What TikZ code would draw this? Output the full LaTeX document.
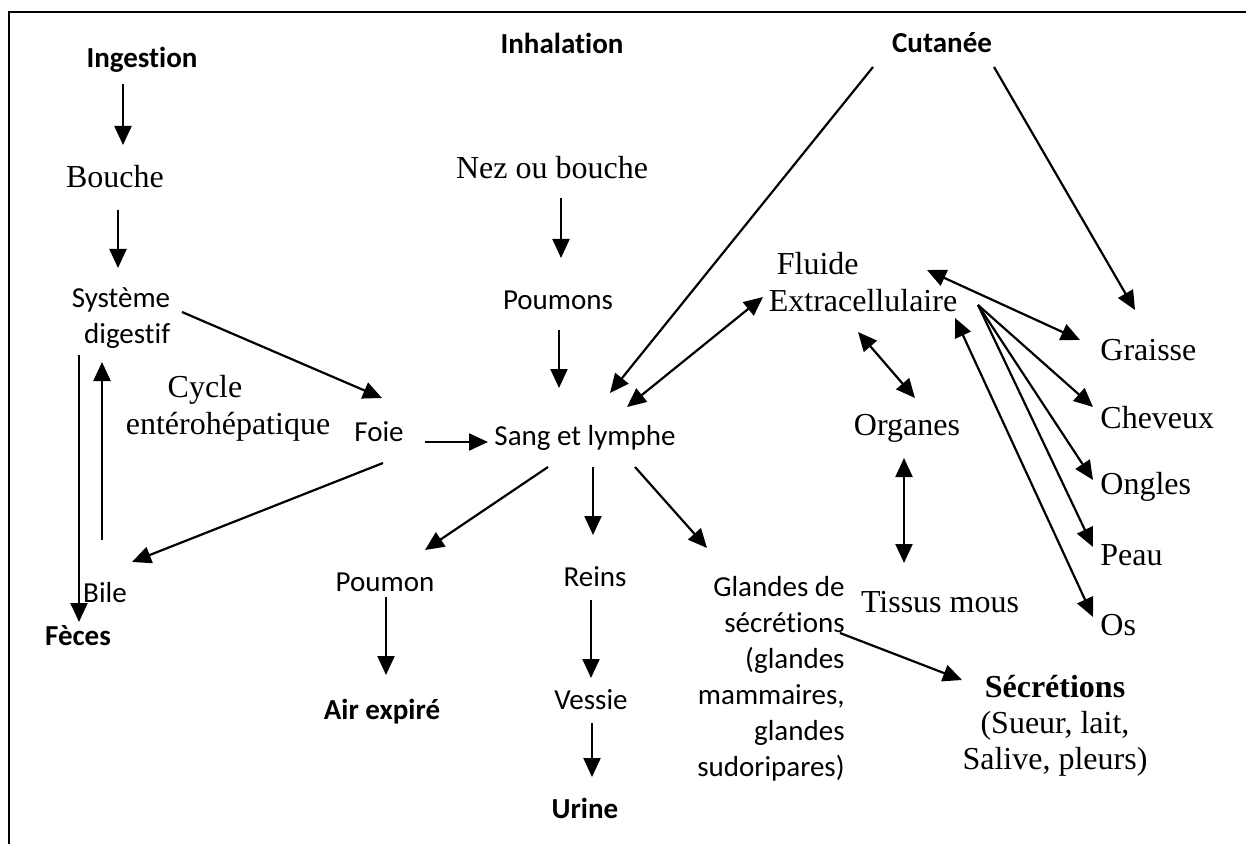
\documentclass[tikz,border=0pt]{standalone}
\usepackage{fontspec}
\setmainfont{Liberation Serif}
\newfontfamily\calfont[Ligatures=NoCommon]{Carlito}
\usetikzlibrary{arrows.meta}

\tikzset{
  sans/.style={inner sep=0pt, font=\calfont\fontsize{14.5}{18}\selectfont},
  sansb/.style={inner sep=0pt, font=\calfont\bfseries\fontsize{14.5}{18}\selectfont},
  serif/.style={inner sep=0pt, font=\fontsize{16}{18.5}\selectfont},
  arr/.style={line width=1.1pt, -{Triangle[length=9.5pt,width=8.5pt]}},
  darr/.style={line width=1.1pt, {Triangle[length=9.5pt,width=8.5pt]}-{Triangle[length=9.5pt,width=8.5pt]}}
}

\begin{document}
\begin{tikzpicture}[x=0.5pt, y=-0.5pt]
\useasboundingbox (0,0) rectangle (1246,844);
% frame
\draw[line width=0.9pt] (9,844) -- (9,12) -- (1246,12);

% voies d'entree
\node[sansb] (ingestion) at (142,60) {Ingestion};
\node[sansb] (inhalation) at (562,43) {Inhalation};
\node[sansb] (cutanee) at (942,43) {Cutanée};

% ingestion
\node[serif] (bouche) at (115,177) {Bouche};
\node[sans, align=right] (systeme) at (121,318) {Système\\digestif};
\node[serif, align=center] (cycle) at (228,408) {Cycle\hspace*{23pt}\\entérohépatique};
\node[sans] (foie) at (379,432) {Foie};
\node[sans] (bile) at (105,593) {Bile};
\node[sansb] (feces) at (78,636) {Fèces};

% inhalation
\node[serif] (nez) at (552,168) {Nez ou bouche};
\node[sans] (poumons) at (558,300) {Poumons};
\node[sans] (sang) at (585,438) {Sang et lymphe};

% excretion
\node[sans] (poumon) at (385,582) {Poumon};
\node[sansb] (air) at (382,712) {Air expiré};
\node[sans] (reins) at (595,577) {Reins};
\node[sans] (vessie) at (591,700) {Vessie};
\node[sansb] (urine) at (585,808) {Urine};
\node[sans, align=right, anchor=east] (glandes) at (845,679)
  {Glandes de\\sécrétions\\(glandes\\mammaires,\\glandes\\sudoripares)};
\node[serif, align=center, font=\fontsize{16}{18}\selectfont] (secretions) at (1055,726)
  {\textbf{Sécrétions}\\(Sueur, lait,\\Salive, pleurs)};

% distribution
\node[serif, align=left] (fluide) at (863,282) {\hspace*{4pt}Fluide\\Extracellulaire};
\node[serif] (organes) at (907,428) {Organes};
\node[serif] (tissus) at (940,602) {Tissus mous};
\node[serif, anchor=west] (graisse) at (1100,350) {Graisse};
\node[serif, anchor=west] (cheveux) at (1100,418) {Cheveux};
\node[serif, anchor=west] (ongles) at (1100,487) {Ongles};
\node[serif, anchor=west] (peau) at (1100,555) {Peau};
\node[serif, anchor=west] (os) at (1100,625) {Os};

% fleches
\draw[arr] ([shift={(-19,24)}]ingestion.center) -- ([shift={(8,-32)}]bouche.center);
\draw[arr] ([shift={(3,33)}]bouche.center) -- ([shift={(-3,-50)}]systeme.center);
\draw[arr] ([shift={(61,-6)}]systeme.center) -- ([shift={(3,-34)}]foie.center);
\draw[arr] ([shift={(46,10)}]foie.center) -- ([shift={(-97,4)}]sang.center);
\draw[arr] ([shift={(4,31)}]foie.center) -- ([shift={(27,-31)}]bile.center);
\draw[arr] ([shift={(-3,-53)}]bile.center) -- ([shift={(-19,44)}]systeme.center);
\draw[arr] ([shift={(-42,37)}]systeme.center) -- ([shift={(1,-14)}]feces.center);

\draw[arr] ([shift={(9,30)}]nez.center) -- ([shift={(3,-42)}]poumons.center);
\draw[arr] ([shift={(1,30)}]poumons.center) -- ([shift={(-26,-50)}]sang.center);
\draw[arr] ([shift={(-69,24)}]cutanee.center) -- ([shift={(25,-45)}]sang.center);
\draw[arr] ([shift={(52,24)}]cutanee.center) -- ([shift={(35,-40)}]graisse.west);

\draw[darr] ([shift={(42,-31)}]sang.center) -- ([shift={(-100,15)}]fluide.center);
\draw[darr] ([shift={(64,-12)}]fluide.center) -- ([shift={(-20,-10)}]graisse.west);
\draw[arr] ([shift={(115,23)}]fluide.center) -- ([shift={(-7,-11)}]cheveux.west);
\draw[arr] ([shift={(115,23)}]fluide.center) -- ([shift={(-7,-7)}]ongles.west);
\draw[arr] ([shift={(115,23)}]fluide.center) -- ([shift={(-7,-8)}]peau.west);
\draw[darr] ([shift={(92,36)}]fluide.center) -- ([shift={(-7,-8)}]os.west);
\draw[darr] ([shift={(-5,50)}]fluide.center) -- ([shift={(8,-30)}]organes.center);
\draw[darr] ([shift={(-3,30)}]organes.center) -- ([shift={(-36,-39)}]tissus.center);

\draw[arr] ([shift={(-37,29)}]sang.center) -- ([shift={(40,-32)}]poumon.center);
\draw[arr] ([shift={(8,29)}]sang.center) -- ([shift={(-2,-42)}]reins.center);
\draw[arr] ([shift={(50,29)}]sang.center) -- ([shift={(-138,-131)}]glandes.east);
\draw[arr] ([shift={(1,15)}]poumon.center) -- ([shift={(4,-37)}]air.center);
\draw[arr] ([shift={(-4,23)}]reins.center) -- ([shift={(0,-22)}]vessie.center);
\draw[arr] ([shift={(1,23)}]vessie.center) -- ([shift={(7,-31)}]urine.center);
\draw[arr] ([shift={(-5,-46)}]glandes.east) -- ([shift={(-93,-46)}]secretions.center);
\end{tikzpicture}
\end{document}
